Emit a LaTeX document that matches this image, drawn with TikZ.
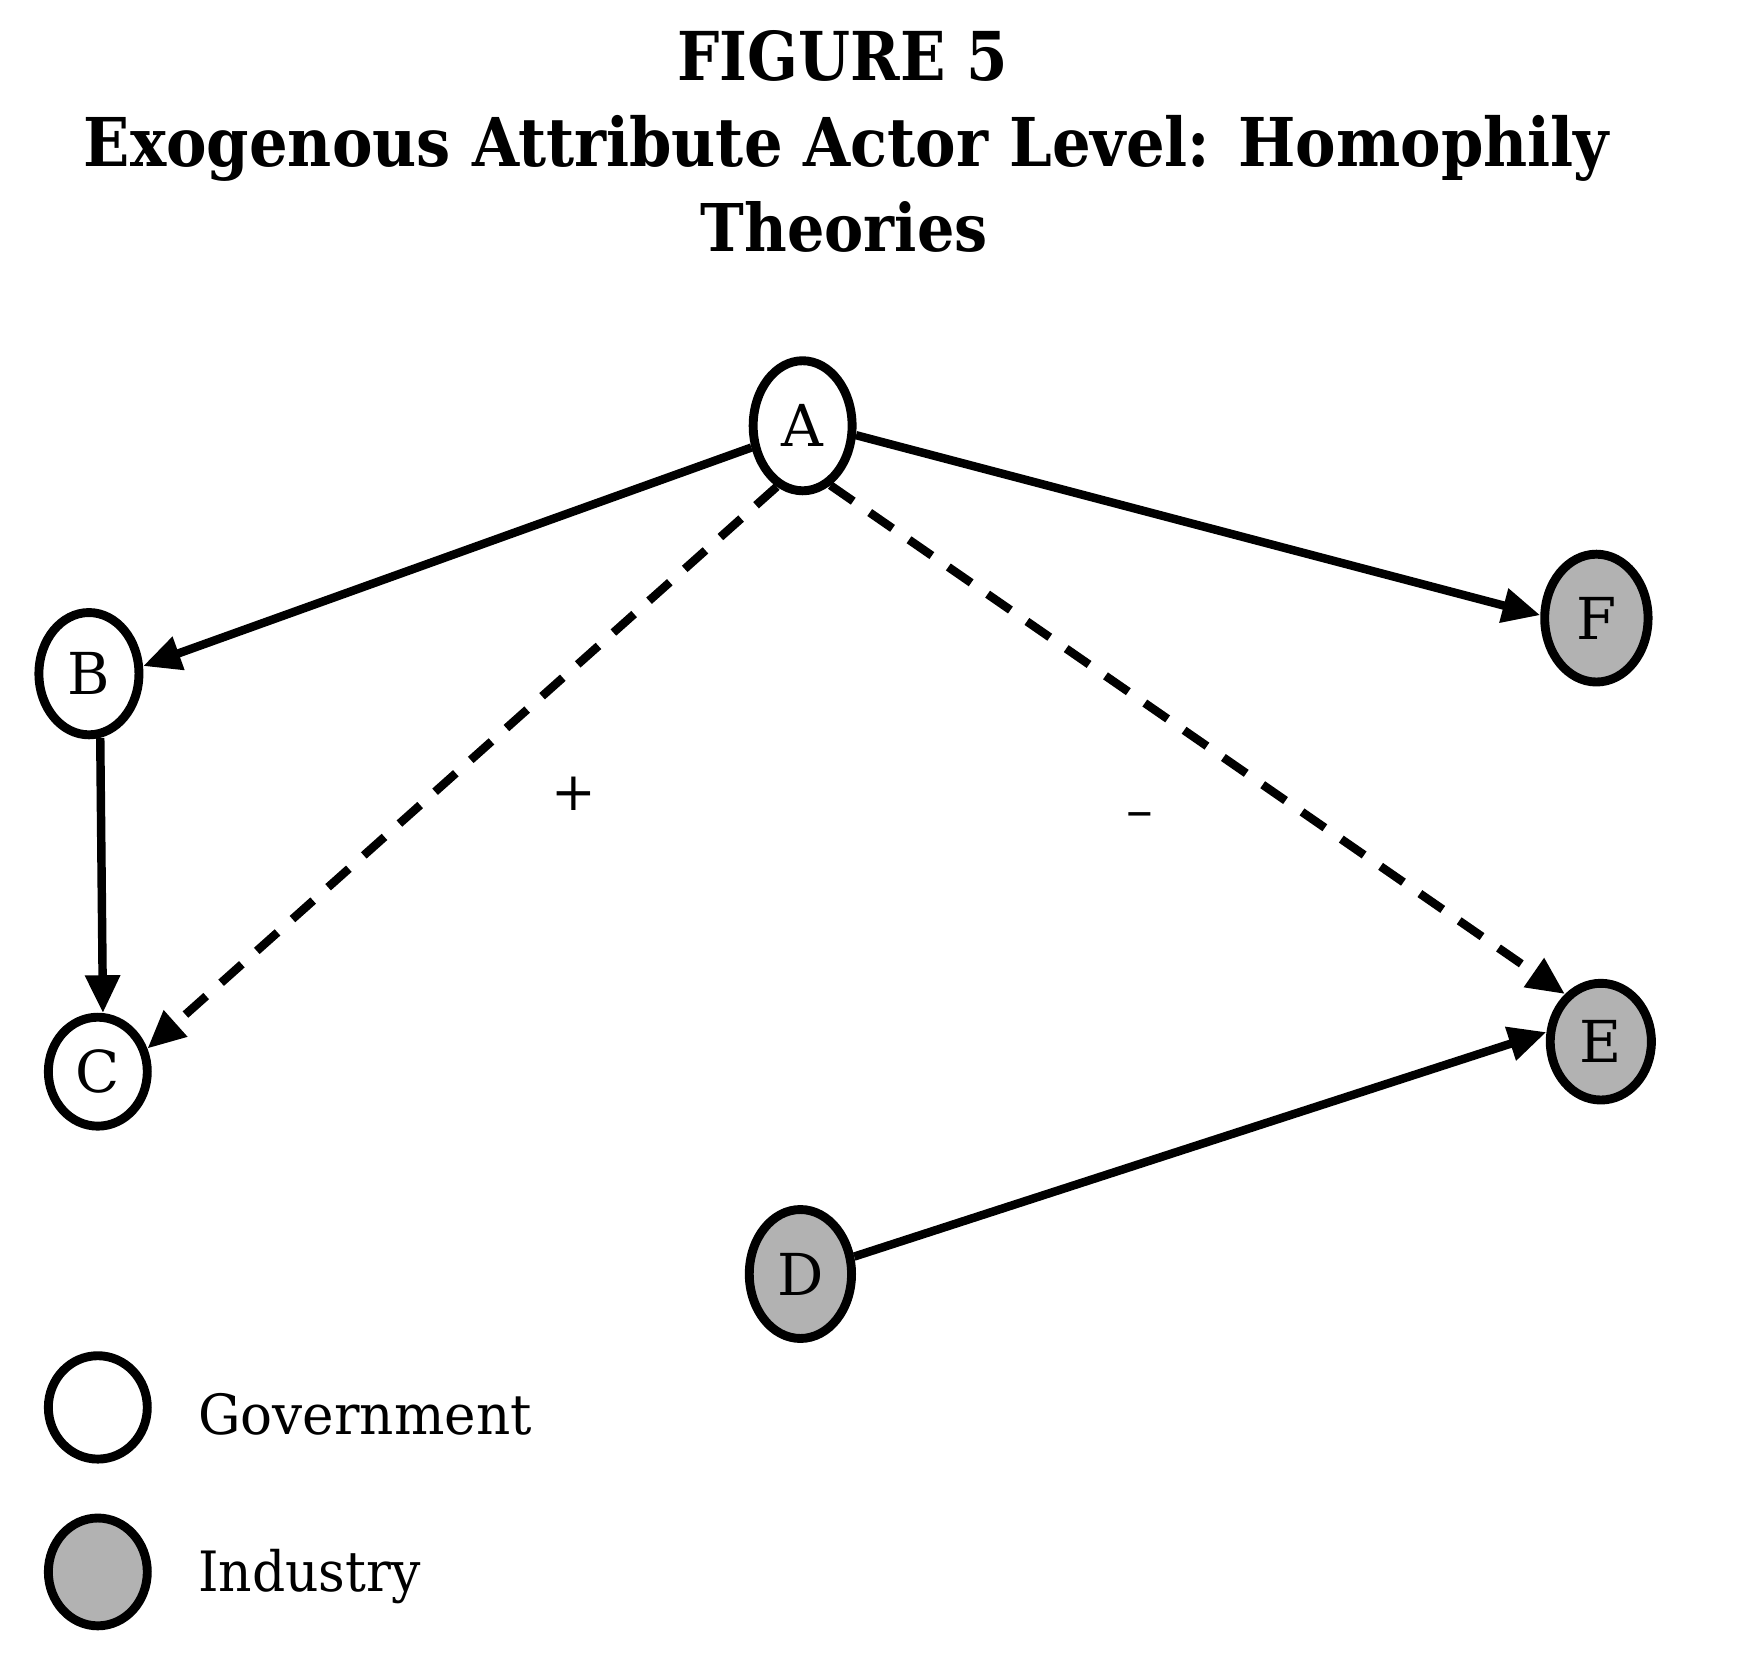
\documentclass[tikz,border=0pt]{standalone}
\usepackage{fontspec}
\setmainfont{DejaVu Serif}
\usetikzlibrary{shapes.geometric,arrows.meta}
\begin{document}
\begin{tikzpicture}[x=0.5pt,y=-0.5pt,
  actor/.style={ellipse, draw, line width=4pt, inner sep=0pt,
    font=\fontsize{26}{30}\selectfont},
  gov/.style={actor, fill=white},
  ind/.style={actor, fill=black!30},
  link/.style={line width=3.8pt, -{Triangle[length=17pt,width=15pt]}},
  dlink/.style={link, dash pattern=on 12.5pt off 9pt},
  ttl/.style={anchor=base west, inner sep=0pt, font=\bfseries},
  lgd/.style={anchor=base west, inner sep=0pt},
  sign/.style={inner sep=0pt, font=\fontsize{24}{28}\selectfont}]
\useasboundingbox[fill=white] (0,0) rectangle (1567,1488);
% title
\node[ttl] (t1) at (609,72) {\resizebox{148.5pt}{22.5pt}{FIGURE 5}};
\node[ttl] (t2) at (75,150) {\resizebox{686pt}{23pt}{Exogenous Attribute Actor Level: Homophily}};
\node[ttl] (t3) at (630,226) {\resizebox{129pt}{22.5pt}{Theories}};
% actors
\node[gov, minimum width=44.5pt, minimum height=58.5pt] (A) at (722,383) {A};
\node[gov, minimum width=45pt, minimum height=55pt] (B) at (80,606) {B};
\node[gov, minimum width=44.5pt, minimum height=49pt] (C) at (88,964) {C};
\node[ind, minimum width=46.5pt, minimum height=57.5pt] (F) at (1436,556) {F};
\node[ind, minimum width=45.5pt, minimum height=52.5pt] (E) at (1440,937) {E};
\node[ind, minimum width=46pt, minimum height=58pt] (D) at (720,1146) {D};
% connectors
\draw[link] (A.203) -- (B.8);
\draw[link] (A.350) -- (F.177);
\draw[link] (B.280) -- (C.85);
\draw[dlink] (A.247) -- (C.25);
\draw[dlink] (A.295) -- (E.127);
\draw[link] (D) -- (E.170);
% signs
\node[sign] (plus) at (516,714) {+};
\node[sign] (minus) at (1025,738) {–};
% legend
\node[gov, minimum width=44.5pt, minimum height=46.5pt] (Lg) at (88,1266) {};
\node[ind, minimum width=44.5pt, minimum height=48.5pt] (Li) at (88,1414) {};
\node[lgd] (Tg) at (178,1290) {\resizebox{150pt}{18.5pt}{Government}};
\node[lgd] (Ti) at (178,1432) {\resizebox{100pt}{19pt}{Industry}};
\end{tikzpicture}
\end{document}
